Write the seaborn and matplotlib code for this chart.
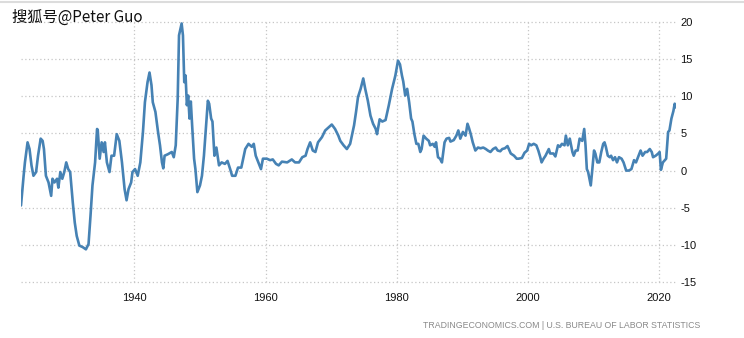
import matplotlib
matplotlib.use("Agg")
import matplotlib.pyplot as plt
import seaborn as sns
import pandas as pd
from matplotlib.lines import Line2D

# ---- data ----
years = [
    1922.7, 1923.1, 1923.3, 1923.7, 1924.0, 1924.3, 1924.6, 1925.0, 1925.3, 1925.7,
    1926.0, 1926.2, 1926.5, 1926.9, 1927.3, 1927.5, 1927.8, 1928.2, 1928.4, 1928.7,
    1929.0, 1929.3, 1929.6, 1929.9, 1930.2, 1930.6, 1930.9, 1931.2, 1931.6, 1932.1,
    1932.6, 1933.0, 1933.3, 1933.6, 1934.0, 1934.3, 1934.4, 1934.7, 1935.0, 1935.3,
    1935.5, 1935.8, 1936.2, 1936.5, 1936.9, 1937.3, 1937.7, 1938.1, 1938.5, 1938.8,
    1939.1, 1939.5, 1939.7, 1940.1, 1940.5, 1940.9, 1941.3, 1941.6, 1942.0, 1942.3,
    1942.6, 1942.8, 1943.2, 1943.3, 1943.6, 1943.9, 1944.2, 1944.4, 1944.6, 1945.1,
    1945.7, 1946.0, 1946.3, 1946.6, 1946.8, 1947.2, 1947.4, 1947.6, 1947.8, 1948.0,
    1948.2, 1948.4, 1948.6, 1948.8, 1949.1, 1949.3, 1949.6, 1950.0, 1950.3, 1950.6,
    1950.9, 1951.2, 1951.4, 1951.7, 1951.9, 1952.2, 1952.5, 1952.9, 1953.3, 1953.8,
    1954.2, 1954.6, 1954.9, 1955.4, 1955.8, 1956.3, 1956.9, 1957.4, 1957.9, 1958.2,
    1958.5, 1958.9, 1959.3, 1959.6, 1960.2, 1960.7, 1961.1, 1961.6, 1962.0, 1962.5,
    1963.3, 1964.0, 1964.5, 1965.1, 1965.6, 1966.1, 1966.4, 1966.8, 1967.2, 1967.6,
    1968.0, 1968.6, 1969.1, 1969.6, 1970.1, 1970.6, 1971.1, 1971.4, 1971.9, 1972.4,
    1972.9, 1973.5, 1973.8, 1974.1, 1974.5, 1974.9, 1975.2, 1975.6, 1976.0, 1976.4,
    1976.8, 1977.0, 1977.4, 1977.8, 1978.3, 1978.8, 1979.3, 1979.8, 1980.2, 1980.5,
    1980.8, 1981.0, 1981.3, 1981.6, 1981.9, 1982.2, 1982.4, 1982.7, 1983.0, 1983.3,
    1983.6, 1983.8, 1984.1, 1984.5, 1984.9, 1985.1, 1985.5, 1985.8, 1986.0, 1986.3,
    1986.6, 1986.9, 1987.3, 1987.6, 1988.0, 1988.2, 1988.7, 1989.1, 1989.4, 1989.7,
    1990.1, 1990.5, 1990.8, 1991.0, 1991.3, 1991.6, 1992.0, 1992.4, 1992.8, 1993.2,
    1993.6, 1993.9, 1994.3, 1994.7, 1995.1, 1995.4, 1995.8, 1996.1, 1996.5, 1996.9,
    1997.2, 1997.4, 1997.9, 1998.3, 1998.6, 1999.1, 1999.5, 1999.9, 2000.2, 2000.5,
    2000.9, 2001.3, 2001.6, 2001.9, 2002.1, 2002.4, 2002.7, 2003.2, 2003.4, 2003.9,
    2004.2, 2004.6, 2004.9, 2005.2, 2005.6, 2005.8, 2006.1, 2006.4, 2006.8, 2007.0,
    2007.3, 2007.6, 2007.9, 2008.3, 2008.6, 2008.8, 2009.0, 2009.2, 2009.6, 2009.8,
    2010.1, 2010.3, 2010.6, 2010.9, 2011.2, 2011.5, 2011.7, 2011.9, 2012.2, 2012.5,
    2012.7, 2013.0, 2013.3, 2013.6, 2013.9, 2014.3, 2014.6, 2015.0, 2015.4, 2015.8,
    2016.2, 2016.5, 2016.8, 2017.2, 2017.5, 2017.9, 2018.2, 2018.6, 2018.9, 2019.1,
    2019.5, 2019.9, 2020.1, 2020.3, 2020.6, 2020.9, 2021.1, 2021.4, 2021.6, 2021.9,
    2022.2, 2022.4, 2022.6,
]
inflation_rate = [
    -4.7, -0.7, 1.1, 3.8, 2.9, 0.7, -0.7, -0.2, 2.0, 4.3,
    4.0, 2.9, -0.7, -1.6, -3.4, -1.1, -1.6, -1.1, -2.3, -0.2,
    -1.1, -0.2, 1.1, 0.2, -0.2, -4.3, -7.0, -8.8, -10.1, -10.3,
    -10.6, -9.9, -6.1, -2.0, 1.1, 5.6, 5.5, 1.6, 3.8, 2.5,
    3.8, 1.1, -0.2, 2.0, 2.0, 4.9, 4.0, 1.1, -2.5, -4.0,
    -2.5, -1.6, -0.2, 0.2, -0.7, 1.1, 5.2, 9.2, 11.9, 13.2,
    11.5, 9.2, 7.9, 7.2, 5.2, 3.4, 1.1, 0.3, 2.0, 2.2,
    2.5, 1.8, 3.4, 9.7, 18.2, 19.8, 18.2, 11.9, 12.8, 8.8,
    10.1, 7.0, 9.3, 6.1, 1.6, 0.2, -2.9, -2.0, -0.7, 2.0,
    5.6, 9.4, 9.0, 7.0, 6.6, 2.0, 3.1, 0.7, 1.1, 0.9,
    1.3, 0.2, -0.7, -0.7, 0.4, 0.4, 2.9, 3.6, 3.2, 3.6,
    2.0, 1.1, 0.2, 1.6, 1.6, 1.4, 1.5, 0.9, 0.7, 1.2,
    1.1, 1.5, 1.1, 1.1, 1.8, 2.0, 2.9, 3.8, 2.7, 2.5,
    3.8, 4.5, 5.4, 5.8, 6.2, 5.6, 4.7, 4.0, 3.4, 2.9,
    3.6, 6.1, 7.9, 9.9, 11.0, 12.4, 11.0, 9.4, 7.4, 6.3,
    5.6, 4.9, 6.9, 6.6, 6.8, 8.8, 11.0, 12.8, 14.8, 14.3,
    12.8, 12.0, 10.1, 11.0, 9.2, 7.0, 6.6, 4.9, 3.6, 3.6,
    2.5, 2.9, 4.7, 4.3, 4.0, 3.4, 3.6, 3.2, 3.8, 1.8,
    1.6, 1.1, 3.8, 4.3, 4.4, 3.9, 4.1, 4.7, 5.4, 4.3,
    5.2, 4.7, 6.3, 5.8, 4.9, 3.8, 2.7, 3.1, 3.0, 3.1,
    2.9, 2.7, 2.5, 2.9, 3.1, 2.7, 2.6, 2.9, 3.0, 3.3,
    2.7, 2.3, 2.0, 1.6, 1.6, 1.7, 2.4, 2.7, 3.6, 3.4,
    3.6, 3.4, 2.7, 1.8, 1.1, 1.6, 2.0, 2.9, 2.3, 2.3,
    1.9, 3.4, 3.2, 3.6, 3.4, 4.7, 3.4, 4.3, 2.5, 2.0,
    2.7, 2.7, 4.3, 4.0, 5.6, 3.4, 0.2, -0.2, -2.0, -0.2,
    2.7, 2.3, 1.1, 1.1, 2.5, 3.6, 3.8, 3.2, 2.0, 1.8,
    2.0, 1.4, 1.8, 1.1, 1.8, 1.6, 1.1, 0.0, 0.0, 0.2,
    1.4, 1.1, 1.8, 2.7, 2.0, 2.5, 2.5, 2.9, 2.5, 1.8,
    2.0, 2.3, 2.5, 0.1, 1.1, 1.4, 1.6, 5.2, 5.4, 7.0,
    8.0, 9.0, 8.5,
]
x_ticks = [1940, 1960, 1980, 2000, 2020]
y_ticks = [-15, -10, -5, 0, 5, 10, 15, 20]
title_text = "搜狐号@Peter Guo"
source_text = "TRADINGECONOMICS.COM | U.S. BUREAU OF LABOR STATISTICS"

df = pd.DataFrame({"year": years, "rate": inflation_rate})

sns.set_theme(style="white")
plt.rcParams["font.family"] = ["Liberation Sans", "Noto Sans CJK SC", "DejaVu Sans"]
plt.rcParams["axes.unicode_minus"] = False

W, H = 744, 338
fig = plt.figure(figsize=(W / 100, H / 100), dpi=100)
left, right, top, bottom = 21, 676, 22, 282
ax = fig.add_axes([left / W, 1 - bottom / H, (right - left) / W, (bottom - top) / H])

sns.lineplot(data=df, x="year", y="rate", ax=ax, color="#4682b4",
             linewidth=1.9, estimator=None)

ax.set_xlim(1922.7, 2022.6)
ax.set_ylim(-15, 20)
ax.set_xticks(x_ticks)
ax.set_xticklabels([str(t) for t in x_ticks])
ax.set_yticks(y_ticks)
ax.set_yticklabels([str(t) for t in y_ticks])
ax.yaxis.tick_right()
ax.set_xlabel("")
ax.set_ylabel("")
ax.grid(True, color="#c6c6c6", linestyle=(0, (1, 2)), linewidth=0.9)
ax.set_axisbelow(True)
for gl in ax.get_xgridlines() + ax.get_ygridlines():
    gl.set_clip_on(False)
for s in ax.spines.values():
    s.set_visible(False)
ax.tick_params(axis="y", length=0, pad=3, labelsize=8, labelcolor="#111111")
ax.tick_params(axis="x", length=3, width=0.8, color="#c6c6c6", pad=5,
               labelsize=8, labelcolor="#111111")

fig.text(12 / W, 1 - 17 / H, title_text, fontsize=11, ha="left", va="center",
         color="#111111", family=["Noto Sans CJK SC", "DejaVu Sans"])
fig.text(700 / W, 1 - 326 / H, source_text, fontsize=6.3, ha="right",
         va="center", color="#8a8a8a")
fig.add_artist(Line2D([0, 1], [1 - 1.5 / H, 1 - 1.5 / H], transform=fig.transFigure,
                      color="#dcdcdc", linewidth=1.5))

fig.savefig("out.png", dpi=100)
